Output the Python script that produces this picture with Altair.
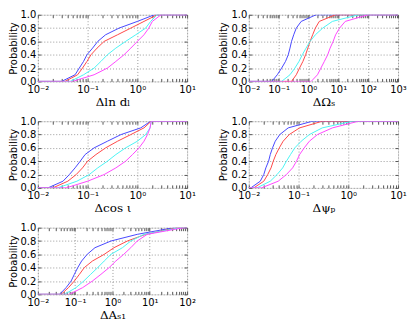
import altair as alt
import pandas as pd
import math

probs = [0.0, 0.1, 0.2, 0.3, 0.4, 0.5, 0.6, 0.7, 0.8, 0.9, 1.0]
series = ["blue", "red", "cyan", "magenta"]
colors = ["#4848ff", "#ff4848", "#4cf4f4", "#ff48ff"]

# quantiles (x value reached at each probability) per panel and series
dlnd_blue = [0.03, 0.056, 0.068, 0.083, 0.097, 0.126, 0.16, 0.23, 0.43, 1.0, 2.2]
dlnd_red = [0.035, 0.063, 0.079, 0.097, 0.117, 0.155, 0.215, 0.40, 0.74, 1.36, 2.5]
dlnd_cyan = [0.045, 0.083, 0.135, 0.185, 0.25, 0.37, 0.58, 0.93, 1.47, 1.85, 2.5]
dlnd_magenta = [0.05, 0.135, 0.25, 0.37, 0.54, 0.74, 1.0, 1.36, 1.7, 2.0, 3.0]

domg_blue = [0.059, 0.09, 0.126, 0.17, 0.21, 0.24, 0.27, 0.32, 0.39, 0.57, 1.8]
domg_red = [0.27, 0.39, 0.5, 0.65, 0.8, 0.95, 1.13, 1.38, 1.7, 2.3, 8.0]
domg_cyan = [0.126, 0.24, 0.35, 0.48, 0.62, 0.83, 1.13, 1.7, 3.0, 6.3, 48.0]
domg_magenta = [1.23, 2.0, 2.6, 3.4, 4.4, 5.3, 6.7, 8.1, 11.0, 17.0, 100.0]

dcos_blue = [0.016, 0.032, 0.043, 0.056, 0.071, 0.089, 0.135, 0.25, 0.47, 1.17, 1.85]
dcos_red = [0.02, 0.04, 0.059, 0.079, 0.1, 0.147, 0.23, 0.4, 0.74, 1.36, 1.9]
dcos_cyan = [0.025, 0.061, 0.108, 0.16, 0.25, 0.37, 0.58, 1.0, 1.47, 1.8, 1.9]
dcos_magenta = [0.037, 0.1, 0.215, 0.37, 0.58, 0.8, 1.08, 1.36, 1.6, 1.8, 1.9]

dpsi_blue = [0.011, 0.017, 0.02, 0.022, 0.025, 0.027, 0.03, 0.034, 0.042, 0.062, 0.19]
dpsi_red = [0.0126, 0.02, 0.024, 0.028, 0.031, 0.035, 0.041, 0.049, 0.065, 0.105, 0.3]
dpsi_cyan = [0.0146, 0.027, 0.037, 0.048, 0.057, 0.069, 0.084, 0.113, 0.165, 0.3, 1.2]
dpsi_magenta = [0.018, 0.039, 0.057, 0.076, 0.091, 0.105, 0.13, 0.165, 0.24, 0.48, 1.6]

das_blue = [0.038, 0.057, 0.078, 0.095, 0.117, 0.149, 0.21, 0.34, 0.91, 4.6, 44.0]
das_red = [0.042, 0.066, 0.095, 0.13, 0.175, 0.29, 0.6, 1.1, 2.5, 7.7, 54.0]
das_cyan = [0.052, 0.105, 0.17, 0.26, 0.4, 0.6, 0.91, 1.85, 3.1, 7.0, 66.0]
das_magenta = [0.07, 0.158, 0.29, 0.49, 0.81, 1.23, 2.0, 3.1, 4.6, 8.5, 81.0]

panels = [
    ("Δln dₗ", 1e-2, 1e1, [dlnd_blue, dlnd_red, dlnd_cyan, dlnd_magenta]),
    ("ΔΩₛ", 1e-2, 1e3, [domg_blue, domg_red, domg_cyan, domg_magenta]),
    ("Δcos ι", 1e-2, 1e1, [dcos_blue, dcos_red, dcos_cyan, dcos_magenta]),
    ("Δψₚ", 1e-2, 1e1, [dpsi_blue, dpsi_red, dpsi_cyan, dpsi_magenta]),
    ("ΔAₛ₁", 1e-2, 1e2, [das_blue, das_red, das_cyan, das_magenta]),
]

K = "round(log(datum.value)/LN10)"
label_expr = (
    "'10' + (" + K + " < 0 ? '⁻' : '') + "
    "(abs(" + K + ") == 0 ? '⁰' : abs(" + K + ") == 1 ? '¹' : abs(" + K + ") == 2 ? '²' : '³')"
)

W, H = 150, 67
FONT = "DejaVu Sans"


def make_panel(title, xmin, xmax, curves):
    rows = []
    for s, qs in zip(series, curves):
        i = 0
        rows.append({"series": s, "x": xmin, "p": 0.0, "i": i})
        for q, p in zip(qs, probs):
            i += 1
            rows.append({"series": s, "x": q, "p": p, "i": i})
        rows.append({"series": s, "x": xmax, "p": 1.0, "i": i + 1})
    df = pd.DataFrame(rows)

    dec_lo = round(math.log10(xmin))
    dec_hi = round(math.log10(xmax))
    majors = [10.0 ** k for k in range(dec_lo, dec_hi + 1)]
    minors = [m * 10.0 ** k for k in range(dec_lo, dec_hi) for m in range(1, 10)] + [majors[-1]]
    yvals = [0.0, 0.2, 0.4, 0.6, 0.8, 1.0]

    xs = alt.Scale(type="log", domain=[xmin, xmax], nice=False)
    ys = alt.Scale(domain=[0, 1], nice=False)
    col = alt.Color("series:N", scale=alt.Scale(domain=series, range=colors), legend=None)

    main = alt.Chart(df).mark_line(strokeWidth=1, clip=True).encode(
        x=alt.X("x:Q", scale=xs, axis=alt.Axis(
            values=majors, labelExpr=label_expr, title=title, ticks=False,
            domain=False, grid=True, gridDash=[1, 2], gridColor="#9a9a9a",
            labelFont=FONT, labelFontSize=10, labelColor="#000", labelPadding=3,
            titleFont="DejaVu Serif", titleFontSize=12, titleFontWeight="normal",
            titleColor="#000", titlePadding=2, labelFlush=False)),
        y=alt.Y("p:Q", scale=ys, axis=alt.Axis(
            values=yvals, format=".1f", title="Probability", ticks=False,
            domain=False, grid=True, gridDash=[1, 2], gridColor="#9a9a9a",
            labelFont=FONT, labelFontSize=10, labelColor="#000", labelPadding=2,
            titleFont=FONT, titleFontSize=10, titleFontWeight="normal",
            titleColor="#000", titlePadding=2, labelFlush=False)),
        color=col,
        order="i:Q",
    )

    def tick_layer(xorient, yorient):
        return alt.Chart(df).mark_line(opacity=0).encode(
            x=alt.X("x:Q", scale=xs, axis=alt.Axis(
                orient=xorient, values=minors, labels=False, title=None, grid=False,
                domain=False, ticks=True, tickSize=3, tickColor="#555",
                offset=-3, minExtent=0, maxExtent=0)),
            y=alt.Y("p:Q", scale=ys, axis=alt.Axis(
                orient=yorient, values=yvals, labels=False, title=None, grid=False,
                domain=False, ticks=True, tickSize=3, tickColor="#555",
                offset=-3, minExtent=0, maxExtent=0)),
            detail="series:N",
        )

    return alt.layer(
        main, tick_layer("bottom", "left"), tick_layer("top", "right")
    ).resolve_axis(x="independent", y="independent").properties(width=W, height=H)


p = [make_panel(*args) for args in panels]

chart = alt.vconcat(
    alt.hconcat(p[0], p[1], spacing=22),
    alt.hconcat(p[2], p[3], spacing=22),
    p[4],
    spacing=7,
).properties(
    padding={"left": -1, "top": 0, "right": 0, "bottom": 0}
).configure_view(stroke="#888", strokeWidth=1).configure(background="white")

chart.save("out.html", embed_options={"renderer": "svg", "actions": False})
